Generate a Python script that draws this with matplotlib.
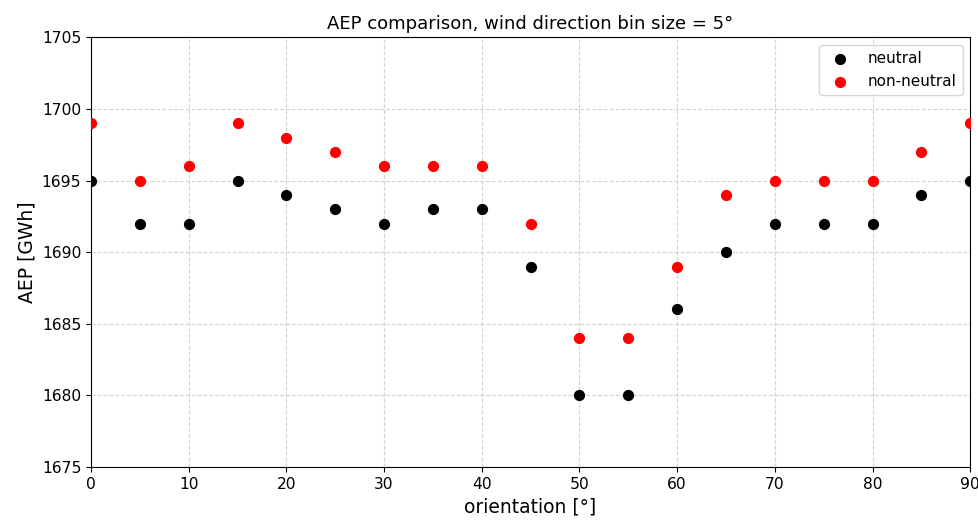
import numpy as np
import matplotlib
matplotlib.use("Agg")
import matplotlib.pyplot as plt

# AEP per orientation for the two stability cases
orientation = [0, 5, 10, 15, 20, 25, 30, 35, 40, 45, 50, 55, 60, 65, 70, 75, 80, 85, 90]
aep_neutral = [1695, 1692, 1692, 1695, 1694, 1693, 1692, 1693, 1693, 1689,
               1680, 1680, 1686, 1690, 1692, 1692, 1692, 1694, 1695]
aep_non_neutral = [1699, 1695, 1696, 1699, 1698, 1697, 1696, 1696, 1696, 1692,
                   1684, 1684, 1689, 1694, 1695, 1695, 1695, 1697, 1699]

fig = plt.figure(figsize=(9.79, 5.2), dpi=100)
ax = fig.add_axes([0.093, 0.102, 0.898, 0.826])

ax.scatter(orientation, aep_neutral, c='black', s=50, label='neutral', zorder=3)
ax.scatter(orientation, aep_non_neutral, c='red', s=50, label='non-neutral', zorder=3)

ax.set_xlim(0, 90)
ax.set_ylim(1675, 1705)
ax.set_xticks(np.arange(0, 91, 10))
ax.set_yticks(np.arange(1675, 1706, 5))
ax.grid(True, linestyle='--', color='lightgrey', linewidth=0.8)
ax.tick_params(labelsize=11.2)

ax.set_title('AEP comparison, wind direction bin size = 5°', fontsize=13)
ax.set_xlabel('orientation [°]', fontsize=13.5)
ax.set_ylabel('AEP [GWh]', fontsize=13.5)
ax.legend(loc='upper right', fontsize=11)

fig.savefig('out.png', dpi=100)
